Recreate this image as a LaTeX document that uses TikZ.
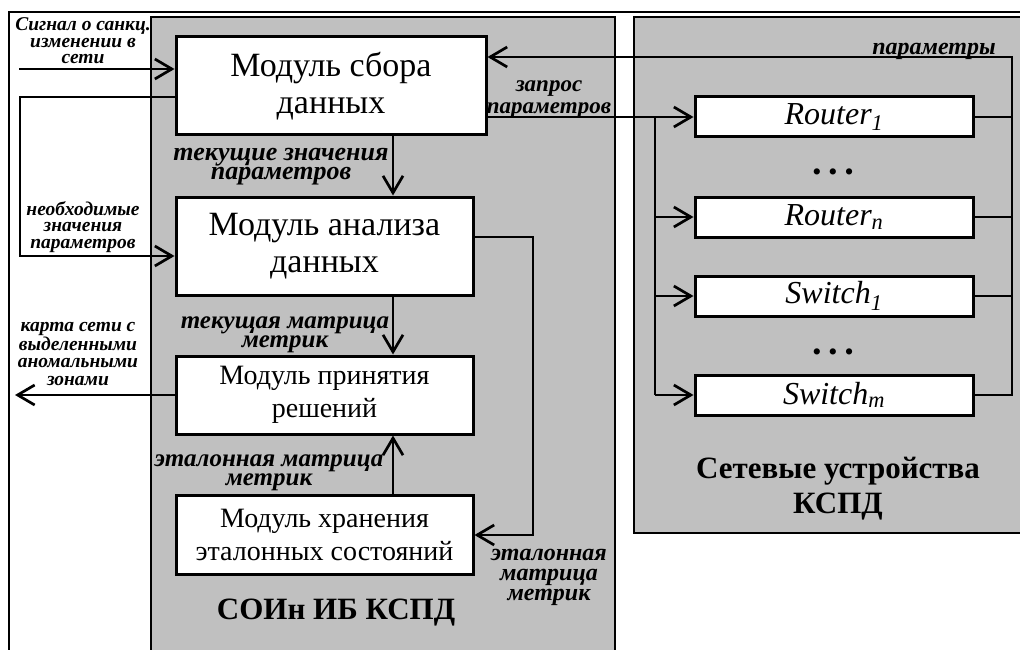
\documentclass[tikz,border=0pt]{standalone}
\usepackage{fontspec}
\setmainfont{Liberation Serif}
\usetikzlibrary{arrows.meta}
\definecolor{panelgray}{RGB}{192,192,192}
\begin{document}
\begin{tikzpicture}[x=1pt,y=-1pt,
  modbox/.style={draw, line width=3pt, fill=white, inner sep=0pt, align=center, minimum width=297pt},
  bigtext/.style={font=\fontsize{34}{37}\selectfont},
  midtext/.style={font=\fontsize{28}{33}\selectfont},
  devbox/.style={draw, line width=3pt, fill=white, inner sep=0pt, minimum width=278pt, minimum height=40pt, font=\fontsize{32}{34}\selectfont\itshape},
  panel/.style={draw, line width=2pt, fill=panelgray},
  conn/.style={line width=2.7pt},
  arr/.style={conn, -{Straight Barb[length=17pt,width=20pt,line width=2.7pt]}},
  lblL/.style={font=\fontsize{19.5}{16.5}\selectfont\bfseries\itshape, align=center, inner sep=0pt},
  lblG/.style={font=\fontsize{25}{19}\selectfont\bfseries\itshape, align=center, inner sep=0pt},
  title/.style={font=\fontsize{31}{35}\selectfont\bfseries, align=center, inner sep=0pt}
]
\useasboundingbox (0,0) rectangle (1020,650);
\clip (0,0) rectangle (1020,650);
\fill[white] (0,0) rectangle (1020,650);
% outer frame
\draw[line width=2.2pt] (9,680) -- (9,12) -- (1040,12);
% panels
\draw[panel] (151,17) rectangle (615,680);
\draw[panel] (634,17) rectangle (1040,533);
% modules
\node[modbox, bigtext, minimum width=310pt, minimum height=98pt] (m1) at (331,86) {Модуль сбора\\данных};
\node[modbox, bigtext, minimum height=98pt] (m2) at (324.5,246) {Модуль анализа\\данных};
\node[modbox, midtext, minimum height=78pt] (m3) at (324.5,395) {Модуль принятия\\решений};
\node[modbox, midtext, minimum height=79pt] (m4) at (324.5,534.5) {Модуль хранения\\эталонных состояний};
% devices
\node[devbox] (r1) at (834,117) {Router\textsubscript{1}};
\node[devbox] (rn) at (834,217) {Router\textsubscript{\textit{n}}};
\node[devbox] (s1) at (834,296) {Switch\textsubscript{1}};
\node[devbox] (sm) at (834,395) {Switch\textsubscript{\textit{m}}};
\node[font=\fontsize{26}{26}\selectfont, inner sep=0pt] (d1) at (833,175) {•\hspace{7pt}•\hspace{7pt}•};
\node[font=\fontsize{26}{26}\selectfont, inner sep=0pt] (d2) at (833,355) {•\hspace{7pt}•\hspace{7pt}•};
% titles
\node[title] (t1) at (336,613) {СОИн ИБ КСПД};
\node[title] (t2) at (838,489) {Сетевые устройства\\КСПД};
% coordinates
\coordinate (sigIn) at (19,69);
\coordinate (lp1) at (20,97);
\coordinate (lp2) at (20,256);
\coordinate (outEnd) at (15,395);
\coordinate (colx) at (393,0);
\coordinate (fb1) at (533,237);
\coordinate (fb2) at (533,535);
\coordinate (busL) at (655,0);
\coordinate (busR) at (1012,57);
% left connectors
\draw[arr] (sigIn) -- (sigIn -| m1.west);
\draw[arr] (m1.west |- lp1) -- (lp1) -- (lp2) -- (lp2 -| m2.west);
\draw[arr] (m3.west) -- (outEnd);
% vertical chain
\draw[arr] (m1.south -| colx) -- (m2.north -| colx);
\draw[arr] (m2.south -| colx) -- (m3.north -| colx);
\draw[arr] (m4.north -| colx) -- (m3.south -| colx);
% reference loop
\draw[arr] (m2.east |- fb1) -- (fb1) -- (fb2) -- (fb2 -| m4.east);
% request
\draw[arr] (m1.east |- r1.west) -- (r1.west);
\draw[conn] (r1.west -| busL) -- (sm.west -| busL);
\draw[arr] (rn.west -| busL) -- (rn.west);
\draw[arr] (s1.west -| busL) -- (s1.west);
\draw[arr] (sm.west -| busL) -- (sm.west);
% response
\draw[conn] (r1.east) -- (r1.east -| busR);
\draw[conn] (rn.east) -- (rn.east -| busR);
\draw[conn] (s1.east) -- (s1.east -| busR);
\draw[arr] (sm.east) -- (sm.east -| busR) -- (busR) -- (busR -| m1.east);
% labels
\node[lblL] (lsig) at (83,41) {Сигнал о санкц.\\изменении в\\сети};
\node[lblL] (lneed) at (83,227) {необходимые\\значения\\параметров};
\node[lblL, font=\fontsize{19.5}{17.5}\selectfont\bfseries\itshape] (lmap) at (78,354) {карта сети с\\выделенными\\аномальными\\зонами};
\node[lblG, font=\fontsize{26}{19}\selectfont\bfseries\itshape] (lcur) at (281,167) {текущие значения\\параметров};
\node[lblG] (lmat) at (285,335) {текущая матрица\\метрик};
\node[lblG] (lref) at (269,473) {эталонная матрица\\метрик};
\node[lblG, font=\fontsize{23}{22}\selectfont\bfseries\itshape] (lreq) at (549,100) {запрос\\параметров};
\node[lblG, font=\fontsize{24}{18}\selectfont\bfseries\itshape] (lpar) at (934,51.5) {параметры};
\node[lblG, font=\fontsize{24}{20}\selectfont\bfseries\itshape] (lref2) at (549,577) {эталонная\\матрица\\метрик};
\end{tikzpicture}
\end{document}
